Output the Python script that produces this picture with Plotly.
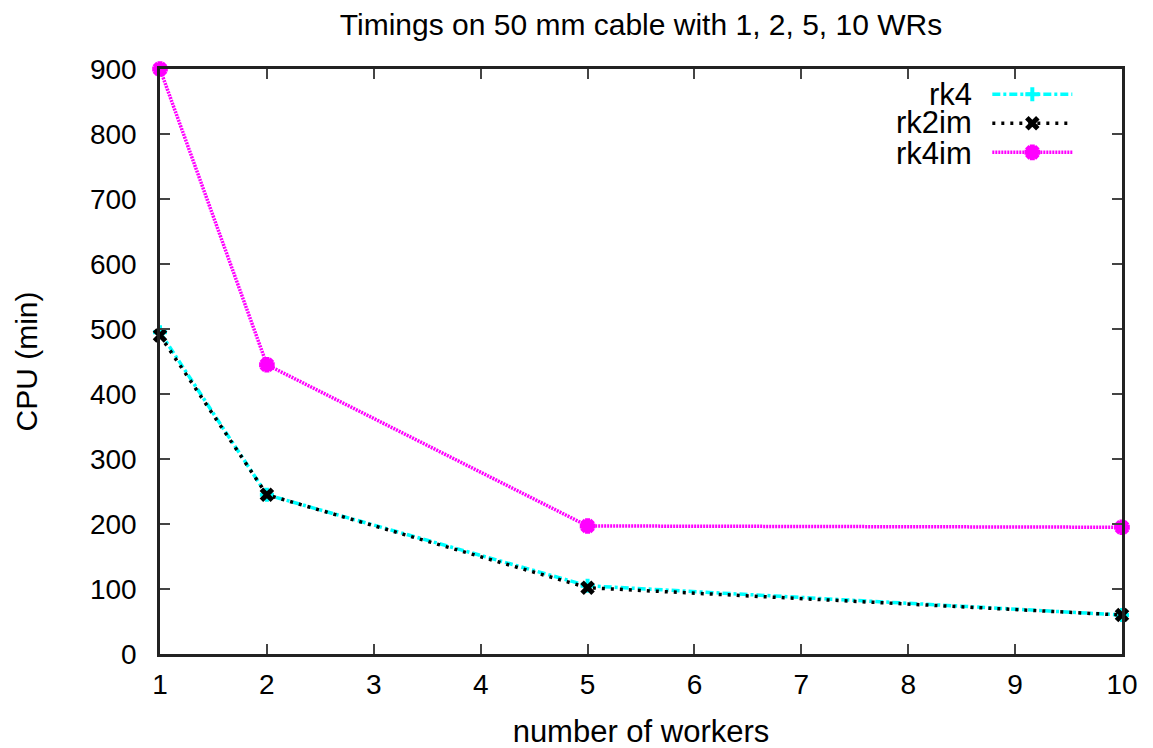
import plotly.graph_objects as go

workers = [1, 2, 5, 10]
rk4 = [495, 245, 105, 60]
rk2im = [490, 245, 102, 60]
rk4im = [900, 445, 197, 195]
series_names = ["rk4", "rk2im", "rk4im"]
x_ticks = list(range(1, 11))
y_ticks = list(range(0, 1000, 100))

FONT = "Liberation Sans, Arial, sans-serif"

fig = go.Figure()
fig.add_trace(go.Scatter(
    x=workers, y=rk4, name=" ", mode="lines+markers", cliponaxis=False,
    line=dict(color="#00ffff", width=3.5, dash="8px,3px,3px,3px"),
    marker=dict(symbol="cross-thin", size=10, line=dict(color="#00ffff", width=4), color="#00ffff")))
fig.add_trace(go.Scatter(
    x=workers, y=rk2im, name=" ", mode="lines+markers", cliponaxis=False,
    line=dict(color="black", width=3.5, dash="3px,6px"),
    marker=dict(symbol="x-thin", size=11, line=dict(color="black", width=5), color="black")))
fig.add_trace(go.Scatter(
    x=workers, y=rk4im, name=" ", mode="lines+markers", cliponaxis=False,
    line=dict(color="#ff00ff", width=3.5, dash="2px,1px"),
    marker=dict(symbol="asterisk", size=13, line=dict(color="#ff00ff", width=5), color="#ff00ff")))

axis_common = dict(
    showgrid=False, zeroline=False, showline=True, linecolor="#222", linewidth=2.5,
    mirror="ticks", ticks="inside", ticklen=10, tickwidth=1.5, tickcolor="#444",
    tickfont=dict(size=28, color="black", family=FONT), automargin=False,
)

# legend labels (text to the left of the samples, as in gnuplot)
label_y = [0.9556, 0.9077, 0.8564]
for name, yy in zip(series_names, label_y):
    fig.add_annotation(text=name, xref="paper", yref="paper", x=0.846, y=yy,
                       xanchor="right", yanchor="middle", showarrow=False,
                       font=dict(size=31, family=FONT, color="black"))

fig.update_layout(
    width=1153, height=748,
    paper_bgcolor="white", plot_bgcolor="white",
    margin=dict(l=152, r=39, t=61, b=102),
    font=dict(family=FONT, color="black"),
    title=dict(text="Timings on 50 mm cable with 1, 2, 5, 10 WRs", xref="paper", x=0.5, xanchor="center",
               yref="container", y=0.978, yanchor="middle", font=dict(size=30, family=FONT, color="black")),
    xaxis=dict(range=[1, 10], tickvals=x_ticks, ticklabelstandoff=4,
               title=dict(text="number of workers", font=dict(size=31), standoff=21),
               **axis_common),
    yaxis=dict(range=[0, 900], tickvals=y_ticks, ticklabelstandoff=15,
               title=dict(text="CPU (min)", font=dict(size=30), standoff=44),
               **axis_common),
    legend=dict(x=0.86, y=0.99, xanchor="left", yanchor="top", bgcolor="rgba(0,0,0,0)",
                font=dict(size=20, family=FONT), itemwidth=80, tracegroupgap=0),
    showlegend=True,
)

fig.write_html("out.html")
